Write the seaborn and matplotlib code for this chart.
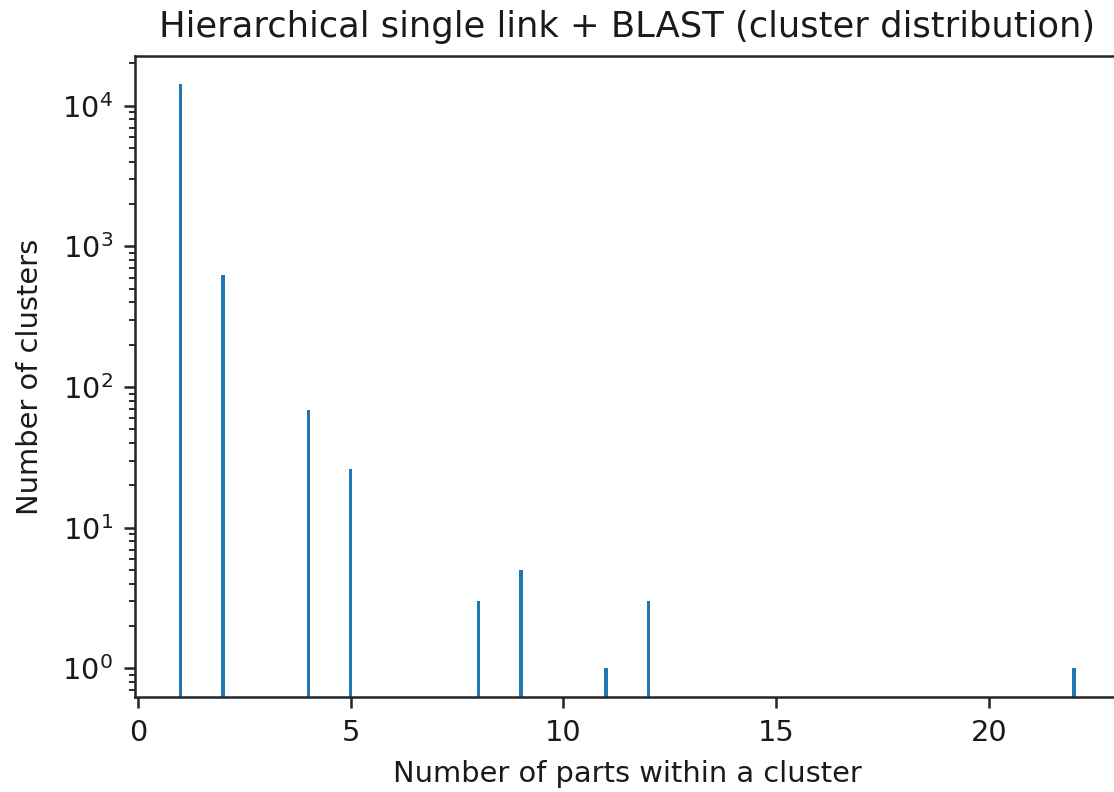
import matplotlib
matplotlib.use("Agg")
import matplotlib.pyplot as plt
import seaborn as sns
import numpy as np

# data
cluster_sizes = [1, 2, 4, 5, 8, 9, 11, 12, 22]
cluster_counts = [14300, 630, 69, 26, 3, 5, 1, 3, 1]

title = "Hierarchical single link + BLAST (cluster distribution)"
xlabel = "Number of parts within a cluster"
ylabel = "Number of clusters"

S = 2.27  # scale factor for line sizes at dpi 100
T = 2.08  # scale factor for text
sns.set_style("ticks")
plt.rcParams['font.family'] = ['DejaVu Sans']
plt.rcParams.update({
    'axes.edgecolor': '#262626',
    'axes.linewidth': 0.8 * S,
    'xtick.major.size': 3.5 * S, 'ytick.major.size': 3.5 * S,
    'xtick.minor.size': 2 * S, 'ytick.minor.size': 2 * S,
    'xtick.major.width': 0.8 * S, 'ytick.major.width': 0.8 * S,
    'xtick.minor.width': 0.6 * S, 'ytick.minor.width': 0.6 * S,
    'xtick.major.pad': 3.5 * S, 'ytick.major.pad': 3.5 * S,
    'xtick.color': '#262626', 'ytick.color': '#262626',
    'xtick.labelcolor': '#1a1a1a', 'ytick.labelcolor': '#1a1a1a',
})

fig = plt.figure(figsize=(11.14, 7.92), dpi=100)
x0, x1 = 135 / 1114, 1119.6 / 1114
y0, y1 = 1 - 697.3 / 792, 1 - 56 / 792
ax = fig.add_axes([x0, y0, x1 - x0, y1 - y0])

sns.histplot(x=cluster_sizes, weights=cluster_counts, discrete=True, shrink=0.075,
             color='#1f77b4', alpha=1, linewidth=0, ax=ax)
ax.set_yscale('log')
ax.set_xlim(-0.07, 23.07)
ax.set_ylim(10 ** -0.205, 10 ** 4.354)
ax.set_xticks([0, 5, 10, 15, 20])

ax.tick_params(labelsize=10 * T)
ax.set_title(title, fontsize=25.4, color='#1a1a1a', pad=6 * S)
ax.set_xlabel(xlabel, fontsize=10 * T, color='#1a1a1a', labelpad=4 * S)
ax.set_ylabel(ylabel, fontsize=10 * T, color='#1a1a1a', labelpad=4 * S + 4)
for sp in ax.spines.values():
    sp.set_visible(True)

fig.savefig("out.png", dpi=100)
